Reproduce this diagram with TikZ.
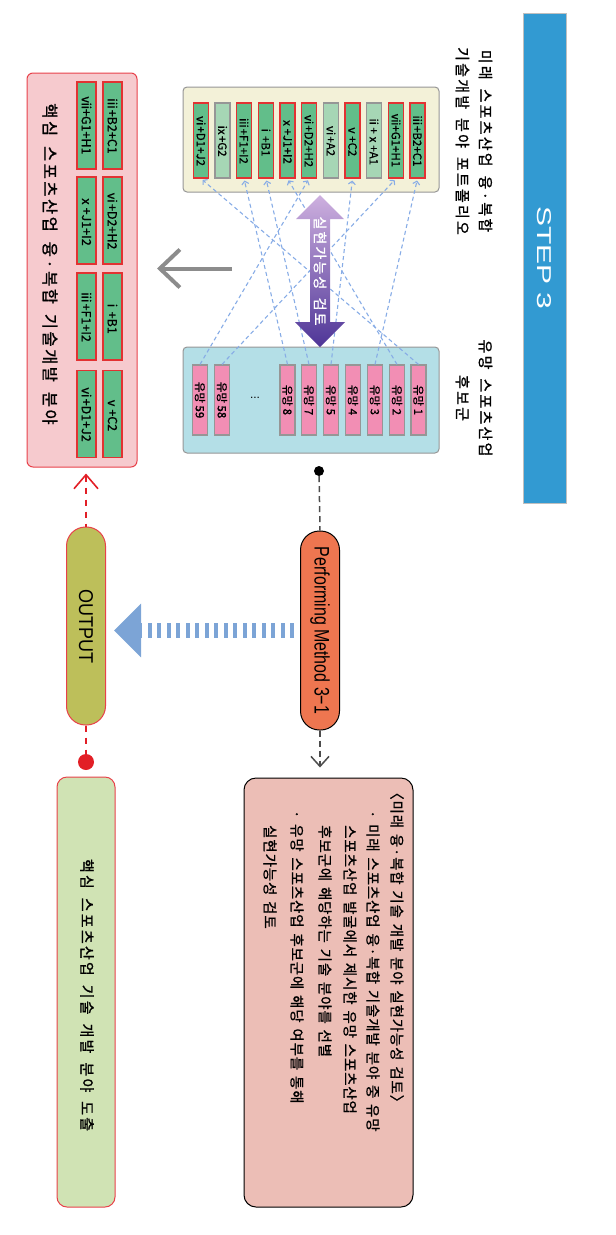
\documentclass[tikz,border=0pt]{standalone}
\usepackage{fontspec}
\usepackage{graphicx}
\setmainfont{Liberation Sans}
\newfontfamily\krA[LetterSpace=15,WordSpace=1.6,FakeBold=1.2]{Noto Sans CJK KR}
\newfontfamily\krB[LetterSpace=6,WordSpace=1.4,FakeBold=1.0]{Noto Sans CJK KR}
\newfontfamily\krt[FakeBold=0.8]{Noto Sans CJK KR}
\usetikzlibrary{arrows.meta}
\definecolor{stepblue}{RGB}{50,154,210}
\definecolor{cream}{RGB}{243,241,216}
\definecolor{turq}{RGB}{180,223,231}
\definecolor{boxgray}{RGB}{150,150,150}
\definecolor{cred}{RGB}{226,50,50}
\definecolor{cgreen}{RGB}{98,190,138}
\definecolor{clight}{RGB}{166,214,181}
\definecolor{cpink}{RGB}{242,142,180}
\definecolor{lpink}{RGB}{246,202,206}
\definecolor{lborder}{RGB}{232,65,74}
\definecolor{olive}{RGB}{189,191,90}
\definecolor{orangered}{RGB}{238,118,80}
\definecolor{salmon}{RGB}{236,190,182}
\definecolor{lgreen}{RGB}{208,227,180}
\definecolor{dotred}{RGB}{226,31,38}
\definecolor{arrblue}{RGB}{124,164,214}
\definecolor{linkblue}{RGB}{135,172,230}
\definecolor{lav}{RGB}{206,176,223}
\definecolor{dpurple}{RGB}{78,53,151}
\definecolor{arrgray}{RGB}{140,140,140}
\begin{document}
\begin{tikzpicture}[x=1pt,y=-1pt,
  cellred/.style={draw=cred, fill=cgreen, line width=1.2pt, rotate=-90,
    minimum width=75pt, minimum height=15pt, inner sep=0pt,
    font=\krt\fontsize{11.5}{12}\selectfont},
  cellgray/.style={cellred, draw=boxgray, fill=clight},
  pinkcell/.style={cellred, draw=boxgray, fill=cpink, minimum width=70pt},
  lcell/.style={cellred, minimum width=87pt, minimum height=19pt,
    font=\krt\fontsize{12.5}{13}\selectfont},
  bigbox/.style={draw=boxgray, line width=1pt, rounded corners=4pt, inner sep=0pt},
  rottext/.style={rotate=-90, inner sep=0pt},
  pill/.style={rotate=-90, rounded corners=19pt, minimum height=39pt, inner sep=0pt},
  linkdash/.style={linkblue, line width=1.1pt, dash pattern=on 4pt off 3pt,
    -{Straight Barb[length=3pt,width=7pt]}, shorten >=2pt},
  reddash/.style={dotred, line width=1.5pt, dash pattern=on 6pt off 6pt},
  blackdash/.style={black!70, line width=1.5pt, dash pattern=on 6pt off 4pt}
]
\useasboundingbox (0,0) rectangle (616,1235);

% STEP bar
\node[rotate=-90, fill=stepblue, draw=black!25, minimum width=490pt, minimum height=43pt,
  inner sep=0pt, text=white, font=\fontsize{20}{20}\selectfont] (step) at (544.5,258)
  {\scalebox{1.5}[1]{STEP 3}};

% labels above boxes
\node[rottext, align=center, font=\krA\fontsize{15}{23}\selectfont] (toplbl) at (474,141)
  {미래 스포츠산업 융·복합\\기술개발 분야 포트폴리오};
\node[rottext, align=center, font=\krA\fontsize{15}{23}\selectfont] (candlbl) at (474,398)
  {유망 스포츠산업\\후보군};

% boxes
\node[bigbox, fill=cream, minimum width=256pt, minimum height=105pt] (ybox) at (311,139.5) {};
\node[bigbox, fill=turq, minimum width=256pt, minimum height=106pt] (tbox) at (311,400) {};

% cells in yellow box
\foreach \i/\x/\s/\t in {1/201/cellred/ⅵ+D1+J2, 2/222.5/cellgray/ⅸ+G2, 3/244/cellred/ⅲ+F1+I2,
  4/266/cellred/ⅰ+B1, 5/287.5/cellred/ⅹ+J1+I2, 6/309/cellred/ⅵ+D2+H2, 7/331/cellgray/ⅵ+A2,
  8/352.5/cellred/ⅴ+C2, 9/374/cellgray/ⅱ+ⅹ+A1, 10/396/cellred/ⅶ+G1+H1, 11/417.5/cellred/ⅲ+B2+C1}
  \node[\s] (g\i) at (\x,140.5) {\t};

% cells in turquoise box
\foreach \n/\x in {59/200, 58/222, 8/287.5, 7/309, 5/331, 4/353, 3/375, 2/397, 1/418.5}
  \node[pinkcell] (p\n) at (\x,400) {유망 \n};
\node[inner sep=0pt, font=\fontsize{12}{12}\selectfont] (dots) at (255,398) {...};

% dashed links
\foreach \a/\b in {1/1, 2/5, 3/11, 5/8, 7/4, 8/3, 58/10, 59/6}
  \draw[linkdash] (p\a.west) -- (g\b.east);

% purple double arrow
\shade[top color=lav, bottom color=dpurple]
  (320,195) -- (344,219) -- (330,219) -- (330,322) -- (345,322) -- (320,347)
  -- (295,322) -- (310,322) -- (310,219) -- (296,219) -- cycle;
\node[rottext, text=white, font=\krA\fontsize{14}{14}\selectfont] (feas) at (320,271) {실현가능성 검토};

% gray arrow
\coordinate (ga) at (232,268.5);
\coordinate (gb) at (157,268.5);
\draw[arrgray, line width=4pt, -{Straight Barb[length=20pt 0 0, width=38pt 0 0]}] (ga) -- (gb);

% left pink result box
\node[draw=lborder, fill=lpink, line width=1pt, rounded corners=6pt,
  minimum width=110pt, minimum height=394pt, inner sep=0pt] (pbox) at (82,270) {};
\node[rottext, font=\krA\fontsize{16.5}{16.5}\selectfont] (ptext) at (50,264)
  {핵심 스포츠산업 융·복합 기술개발 분야};
\foreach \j/\y/\ta/\tb in {1/125.5/ⅲ+B2+C1/ⅶ+G1+H1, 2/220.5/ⅵ+D2+H2/ⅹ+J1+I2,
  3/316.5/ⅰ+B1/ⅲ+F1+I2, 4/414/ⅴ+C2/ⅵ+D1+J2}{
  \node[lcell] (r\j) at (112.5,\y) {\ta};
  \node[lcell] (l\j) at (86.5,\y) {\tb};
}

% OUTPUT pill
\node[pill, draw=lborder, fill=olive, line width=1pt, minimum width=198pt,
  font=\fontsize{20}{20}\selectfont] (out) at (86,626) {\scalebox{0.9}[1]{OUTPUT}};
\draw[reddash, {Straight Barb[length=14pt 0 0, width=24pt 0 0, line width=1.6pt]}-]
  (out.west |- pbox.south) ++(0,6) -- (out.west);
\node[circle, fill=dotred, minimum size=16pt, inner sep=0pt] (rdot) at (86,762) {};
\draw[reddash] (out.east) -- (rdot);

% final green box
\node[draw=lborder, fill=lgreen, line width=1pt, rounded corners=10pt,
  minimum width=58pt, minimum height=430pt, inner sep=0pt] (gbox) at (86,992) {};
\node[rottext, font=\krA\fontsize{15}{15}\selectfont] (gtext) at (87,995)
  {핵심 스포츠산업 기술 개발 분야 도출};

% Performing method pill
\node[circle, fill=black, minimum size=10pt, inner sep=0pt] (bdot) at (319,471) {};
\node[pill, draw=black, fill=orangered, line width=1pt, minimum width=199pt,
  font=\fontsize{21}{21}\selectfont] (pm) at (320,630.5) {\scalebox{0.76}[1]{Performing Method 3−1}};
\draw[blackdash] (bdot) -- (pm.west);

% description box
\node[draw=black, fill=salmon, line width=1pt, rounded corners=12pt,
  minimum width=169pt, minimum height=429pt, inner sep=0pt] (desc) at (328.5,992.5) {};
\draw[blackdash, -{Straight Barb[length=10pt 0 0, width=18pt 0 0, line width=1.5pt]}, shorten >=10pt]
  (pm.east) -- (pm.east |- desc.north);

% blue dotted arrow
\draw[arrblue, line width=15pt, dash pattern=on 4pt off 5.5pt,
  -{Triangle[length=27pt 0 0, width=52pt 0 0]}, shorten <=6pt, shorten >=8pt]
  (pm.south) -- (pm.south -| out.north);

% description text
\begin{scope}[every node/.style={rottext, anchor=west, font=\krB\fontsize{14.5}{15}\selectfont}]
\node (d1) at (397,785) {〈미래 융·복합 기술 개발 분야 실현가능성 검토〉};
\node (d2) at (373,810) {· 미래 스포츠산업 융·복합 기술개발 분야 중 유망};
\node (d3) at (350,825) {스포츠산업 발굴에서 제시한 유망 스포츠산업};
\node (d4) at (325,825) {후보군에 해당하는 기술 분야를 선별};
\node (d5) at (297,810) {· 유망 스포츠산업 후보군에 해당 여부를 통해};
\node (d6) at (270,825) {실현가능성 검토};
\end{scope}
\end{tikzpicture}
\end{document}
